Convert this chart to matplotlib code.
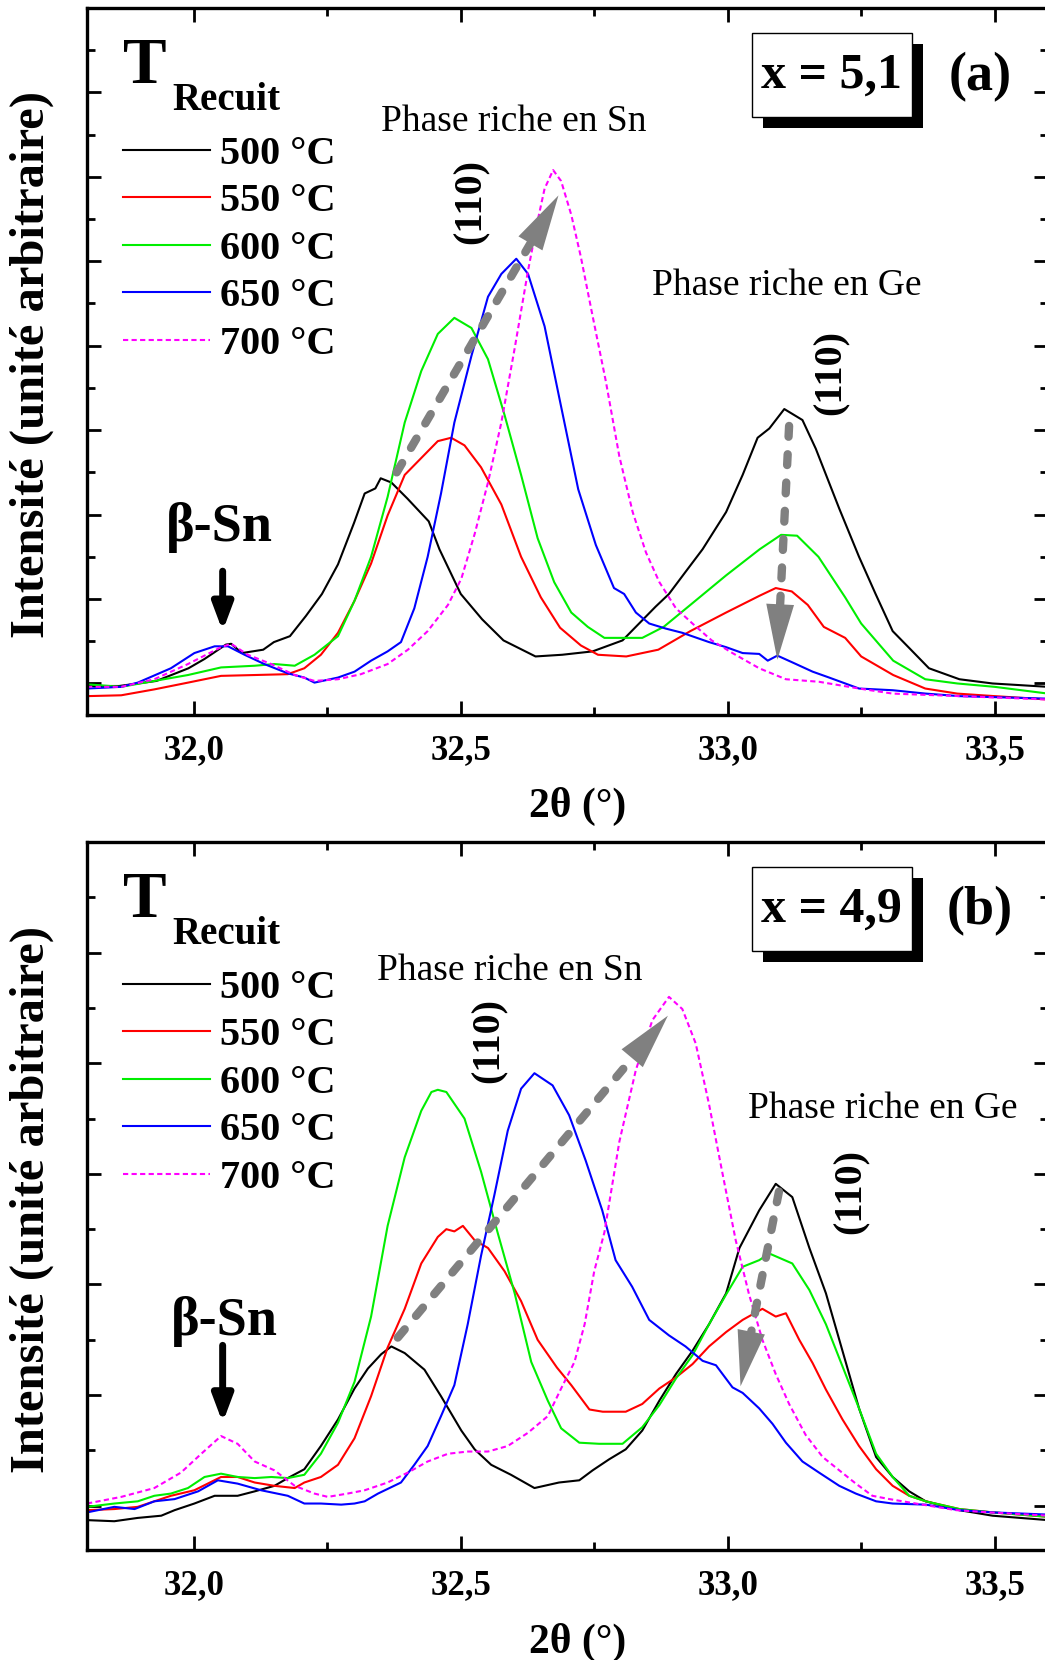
import matplotlib.pyplot as plt
import numpy as np
from matplotlib.patches import Rectangle

plt.rcParams['font.family'] = ['Liberation Serif', 'DejaVu Serif']

temps = ['500 °C', '550 °C', '600 °C', '650 °C', '700 °C']
colors = ['#000000', '#ff0000', '#00ee00', '#0000ff', '#ff00ff']
xticks = [32.0, 32.5, 33.0, 33.5]
xticklabels = ['32,0', '32,5', '33,0', '33,5']

# ---- panel (a), x = 5,1 ----
xa_500 = [31.80, 31.86, 31.93, 31.99, 32.02, 32.06, 32.07, 32.09, 32.13, 32.15, 32.18, 32.21, 32.24, 32.27,
          32.30, 32.32, 32.34, 32.35, 32.37, 32.40, 32.44, 32.46, 32.50, 32.54, 32.58, 32.64, 32.69, 32.747,
          32.803, 32.834, 32.865, 32.89, 32.922, 32.953, 32.997, 33.028, 33.056, 33.078, 33.106, 33.14,
          33.165, 33.209, 33.246, 33.277, 33.309, 33.34, 33.377, 33.434, 33.496, 33.60]
ia_500 = [-0.03, -0.03, 0.03, 0.18, 0.29, 0.46, 0.47, 0.36, 0.40, 0.49, 0.56, 0.80, 1.06, 1.41,
          1.90, 2.25, 2.31, 2.43, 2.38, 2.19, 1.92, 1.59, 1.06, 0.76, 0.51, 0.32, 0.34, 0.38,
          0.51, 0.71, 0.91, 1.06, 1.33, 1.59, 2.03, 2.47, 2.91, 3.02, 3.25, 3.12,
          2.78, 2.07, 1.50, 1.06, 0.62, 0.42, 0.18, 0.05, 0.00, -0.04]

xa_550 = [31.80, 31.864, 31.926, 31.989, 32.051, 32.114, 32.176, 32.207, 32.238, 32.27, 32.301, 32.332,
          32.363, 32.395, 32.426, 32.457, 32.482, 32.507, 32.538, 32.576, 32.613, 32.65, 32.686, 32.725,
          32.757, 32.81, 32.87, 32.93, 32.997, 33.06, 33.09, 33.12, 33.15, 33.18, 33.22, 33.25, 33.31,
          33.37, 33.43, 33.50, 33.60]
ia_550 = [-0.15, -0.14, -0.07, 0.01, 0.09, 0.10, 0.11, 0.18, 0.34, 0.60, 0.98, 1.42,
          1.99, 2.47, 2.67, 2.87, 2.91, 2.82, 2.56, 2.12, 1.50, 1.02, 0.66, 0.45,
          0.34, 0.32, 0.40, 0.62, 0.84, 1.04, 1.13, 1.09, 0.93, 0.67, 0.54, 0.32, 0.10,
          -0.06, -0.12, -0.15, -0.19]

xa_600 = [31.80, 31.864, 31.926, 31.989, 32.051, 32.114, 32.151, 32.189, 32.226, 32.27, 32.301, 32.332,
          32.363, 32.395, 32.426, 32.457, 32.488, 32.52, 32.551, 32.582, 32.613, 32.644, 32.675, 32.707,
          32.738, 32.769, 32.81, 32.84, 32.88, 32.93, 32.997, 33.06, 33.10, 33.13, 33.17, 33.22, 33.25,
          33.28, 33.31, 33.37, 33.43, 33.50, 33.60]
ia_600 = [-0.01, -0.04, 0.03, 0.10, 0.19, 0.21, 0.23, 0.21, 0.34, 0.56, 0.98, 1.50,
          2.21, 3.09, 3.70, 4.14, 4.33, 4.21, 3.84, 3.18, 2.47, 1.72, 1.20, 0.84,
          0.67, 0.54, 0.54, 0.54, 0.67, 0.93, 1.28, 1.59, 1.76, 1.75, 1.50, 1.02, 0.71,
          0.49, 0.27, 0.05, 0.00, -0.04, -0.12]

xa_650 = [31.80, 31.864, 31.895, 31.957, 32.001, 32.039, 32.064, 32.095, 32.132, 32.176, 32.207, 32.226,
          32.27, 32.301, 32.332, 32.363, 32.388, 32.413, 32.438, 32.463, 32.488, 32.52, 32.551, 32.576,
          32.604, 32.626, 32.657, 32.684, 32.72, 32.753, 32.787, 32.806, 32.828, 32.853, 32.884, 32.915,
          32.965, 32.997, 33.028, 33.059, 33.075, 33.093, 33.121, 33.159, 33.19, 33.246, 33.309, 33.371,
          33.434, 33.60]
ia_650 = [-0.06, -0.04, 0.01, 0.18, 0.36, 0.44, 0.44, 0.34, 0.23, 0.12, 0.07, 0.01,
          0.07, 0.14, 0.27, 0.38, 0.49, 0.89, 1.50, 2.25, 3.09, 3.88, 4.58, 4.85,
          5.03, 4.85, 4.23, 3.40, 2.30, 1.64, 1.13, 1.06, 0.84, 0.71, 0.65, 0.60,
          0.49, 0.43, 0.36, 0.35, 0.27, 0.33, 0.25, 0.14, 0.07, -0.06, -0.08, -0.12,
          -0.15, -0.18]

xa_700 = [31.80, 31.864, 31.926, 31.989, 32.051, 32.07, 32.101, 32.145, 32.189, 32.226, 32.27, 32.313,
          32.363, 32.401, 32.438, 32.476, 32.501, 32.526, 32.551, 32.576, 32.601, 32.626, 32.645, 32.657,
          32.673, 32.688, 32.707, 32.725, 32.747, 32.772, 32.797, 32.822, 32.847, 32.872, 32.903, 32.934,
          32.97, 33.009, 33.059, 33.109, 33.171, 33.246, 33.309, 33.434, 33.60]
ia_700 = [-0.04, -0.04, 0.05, 0.23, 0.43, 0.47, 0.34, 0.23, 0.10, 0.03, 0.05, 0.11,
          0.23, 0.40, 0.62, 0.93, 1.24, 1.77, 2.38, 3.09, 3.97, 4.89, 5.51, 5.86,
          6.08, 5.95, 5.55, 5.05, 4.35, 3.57, 2.69, 2.03, 1.55, 1.20, 0.89, 0.71,
          0.51, 0.36, 0.18, 0.05, 0.02, -0.06, -0.12, -0.15, -0.19]

# ---- panel (b), x = 4,9 ----
xb_500 = [31.80, 31.851, 31.895, 31.939, 31.964, 32.001, 32.039, 32.082, 32.114, 32.151, 32.176, 32.207,
          32.238, 32.27, 32.301, 32.326, 32.351, 32.37, 32.395, 32.432, 32.463, 32.501, 32.526, 32.557,
          32.594, 32.638, 32.684, 32.722, 32.747, 32.778, 32.809, 32.84, 32.872, 32.903, 32.934, 32.965,
          32.997, 33.022, 33.059, 33.09, 33.121, 33.153, 33.184, 33.215, 33.246, 33.278, 33.309, 33.34,
          33.371, 33.434, 33.496, 33.60]
ib_500 = [-0.13, -0.14, -0.11, -0.09, -0.04, 0.02, 0.09, 0.09, 0.13, 0.18, 0.25, 0.33,
          0.54, 0.78, 1.06, 1.24, 1.37, 1.44, 1.38, 1.23, 0.99, 0.68, 0.51, 0.37,
          0.28, 0.16, 0.21, 0.23, 0.32, 0.42, 0.51, 0.68, 0.95, 1.19, 1.40, 1.64,
          1.92, 2.33, 2.67, 2.91, 2.79, 2.33, 1.92, 1.40, 0.88, 0.44, 0.26, 0.13,
          0.04, -0.04, -0.09, -0.13]

xb_550 = [31.80, 31.851, 31.895, 31.957, 32.001, 32.051, 32.082, 32.114, 32.151, 32.189, 32.207, 32.238,
          32.27, 32.301, 32.332, 32.363, 32.395, 32.426, 32.457, 32.473, 32.488, 32.504, 32.526, 32.551,
          32.582, 32.613, 32.644, 32.68, 32.707, 32.741, 32.766, 32.809, 32.84, 32.872, 32.903, 32.934,
          32.965, 32.997, 33.028, 33.065, 33.09, 33.109, 33.134, 33.159, 33.184, 33.215, 33.246, 33.278,
          33.309, 33.34, 33.371, 33.434, 33.496, 33.60]
ib_550 = [-0.04, -0.03, -0.01, 0.09, 0.14, 0.26, 0.26, 0.21, 0.18, 0.16, 0.21, 0.26,
          0.37, 0.61, 0.99, 1.43, 1.78, 2.19, 2.43, 2.50, 2.48, 2.53, 2.40, 2.33,
          2.12, 1.85, 1.50, 1.25, 1.09, 0.87, 0.85, 0.85, 0.92, 1.06, 1.16, 1.28,
          1.44, 1.57, 1.68, 1.78, 1.71, 1.74, 1.50, 1.29, 1.05, 0.78, 0.54, 0.33,
          0.18, 0.09, 0.04, -0.03, -0.06, -0.10]

xb_600 = [31.80, 31.851, 31.895, 31.926, 31.957, 31.989, 32.02, 32.051, 32.082, 32.114, 32.145, 32.176,
          32.207, 32.238, 32.27, 32.301, 32.332, 32.363, 32.395, 32.426, 32.445, 32.457, 32.473, 32.507,
          32.538, 32.569, 32.601, 32.632, 32.663, 32.688, 32.722, 32.759, 32.803, 32.84, 32.872, 32.903,
          32.934, 32.965, 32.997, 33.028, 33.059, 33.078, 33.121, 33.153, 33.184, 33.215, 33.246, 33.278,
          33.309, 33.34, 33.371, 33.434, 33.496, 33.60]
ib_600 = [-0.01, 0.02, 0.04, 0.09, 0.11, 0.16, 0.26, 0.29, 0.26, 0.25, 0.26, 0.25,
          0.28, 0.47, 0.75, 1.12, 1.71, 2.53, 3.15, 3.57, 3.74, 3.76, 3.74, 3.50,
          3.02, 2.47, 1.92, 1.30, 0.95, 0.70, 0.57, 0.56, 0.56, 0.71, 0.91, 1.15,
          1.36, 1.64, 1.91, 2.16, 2.22, 2.28, 2.19, 1.95, 1.64, 1.26, 0.88, 0.47,
          0.26, 0.09, 0.04, -0.03, -0.06, -0.10]

xb_650 = [31.80, 31.851, 31.889, 31.926, 31.964, 32.008, 32.045, 32.082, 32.126, 32.176, 32.207, 32.238,
          32.276, 32.301, 32.32, 32.345, 32.388, 32.413, 32.438, 32.463, 32.488, 32.513, 32.538, 32.563,
          32.588, 32.613, 32.638, 32.672, 32.703, 32.734, 32.765, 32.79, 32.821, 32.853, 32.89, 32.921,
          32.953, 32.978, 33.009, 33.028, 33.059, 33.084, 33.109, 33.14, 33.171, 33.209, 33.24, 33.278,
          33.309, 33.371, 33.434, 33.496, 33.60]
ib_650 = [-0.06, -0.01, -0.03, 0.04, 0.06, 0.13, 0.23, 0.20, 0.14, 0.09, 0.02, 0.02,
          0.01, 0.02, 0.04, 0.11, 0.21, 0.37, 0.54, 0.81, 1.09, 1.64, 2.26, 2.81,
          3.39, 3.77, 3.91, 3.80, 3.53, 3.12, 2.67, 2.22, 1.98, 1.68, 1.54, 1.44,
          1.31, 1.27, 1.07, 1.02, 0.88, 0.74, 0.57, 0.40, 0.30, 0.18, 0.11, 0.04,
          0.02, 0.01, -0.04, -0.06, -0.08]

xb_700 = [31.80, 31.864, 31.926, 31.976, 32.014, 32.051, 32.082, 32.114, 32.151, 32.189, 32.226, 32.251,
          32.288, 32.32, 32.363, 32.401, 32.438, 32.476, 32.513, 32.551, 32.588, 32.626, 32.663, 32.688,
          32.713, 32.732, 32.75, 32.769, 32.797, 32.828, 32.859, 32.89, 32.915, 32.94, 32.965, 32.99,
          33.015, 33.04, 33.065, 33.09, 33.115, 33.146, 33.178, 33.209, 33.24, 33.271, 33.303, 33.365,
          33.428, 33.49, 33.60]
ib_700 = [0.02, 0.08, 0.16, 0.30, 0.47, 0.63, 0.56, 0.40, 0.32, 0.18, 0.11, 0.08,
          0.11, 0.14, 0.21, 0.30, 0.40, 0.47, 0.49, 0.49, 0.54, 0.66, 0.81, 1.06,
          1.30, 1.64, 2.12, 2.47, 3.29, 3.94, 4.39, 4.60, 4.49, 4.18, 3.63, 3.01,
          2.40, 1.91, 1.50, 1.19, 0.92, 0.64, 0.44, 0.32, 0.20, 0.09, 0.06, 0.01,
          -0.04, -0.06, -0.09]


def gray_arrow(ax, start, tip):
    (x0, y0), (x1, y1) = start, tip
    xb, yb = x1 - 0.14 * (x1 - x0), y1 - 0.14 * (y1 - y0)
    xh, yh = x1 - 0.3 * (x1 - x0), y1 - 0.3 * (y1 - y0)
    ax.plot([x0, xb], [y0, yb], color='#808080', lw=6, linestyle=(0, (1.3, 2.1)),
            dash_capstyle='round', zorder=4)
    ax.annotate('', xy=tip, xytext=(xh, yh),
                arrowprops=dict(arrowstyle='-|>,head_length=2.0,head_width=0.5', mutation_scale=20,
                                color='#808080', lw=0, shrinkA=0, shrinkB=0), zorder=4)


def draw_panel(ax, xs, ys, ylim, comp, tag, pos):
    for x, y, lab, c in zip(xs, ys, temps, colors):
        ls = (0, (2.5, 1.6)) if lab == '700 °C' else '-'
        ax.plot(x, y, color=c, lw=1.5, ls=ls, label=lab)

    ax.set_xlim(31.8, 33.6)
    ax.set_ylim(*ylim)
    ax.set_xticks(xticks)
    ax.set_xticklabels(xticklabels)
    ax.set_xticks([32.25, 32.75, 33.25], minor=True)
    ax.set_yticks(np.arange(0, ylim[1] + 0.01, 1.0))
    ax.set_yticks(np.arange(0.5, ylim[1], 1.0), minor=True)
    ax.tick_params(which='both', direction='in', top=True, right=True, labelleft=False, width=2)
    ax.tick_params(which='major', length=10, labelsize=25, pad=14)
    ax.tick_params(which='minor', length=5.5)
    for lb in ax.get_xticklabels():
        lb.set_fontweight('bold')
    for s in ax.spines.values():
        s.set_linewidth(2.4)

    ax.set_xlabel('2θ (°)', fontsize=30, fontweight='bold')
    ax.xaxis.set_label_coords(0.511, -0.13)
    ax.xaxis.label.set_va('center')
    ax.set_ylabel('Intensité (unité arbitraire)', fontsize=35, fontweight='bold')
    ax.yaxis.set_label_coords(-0.058, 0.495)
    ax.yaxis.label.set_va('center')

    ax.legend(loc='upper left', bbox_to_anchor=(0.0375, 0.8195), frameon=False, borderpad=0,
              borderaxespad=0, handlelength=2.15, handletextpad=0.25, labelspacing=0.255,
              prop=dict(weight='bold', size=29))

    ax.text(0.037, 0.894, 'T', transform=ax.transAxes, fontsize=47, fontweight='bold', va='baseline')
    ax.text(0.0885, 0.856, 'Recuit', transform=ax.transAxes, fontsize=28, fontweight='bold', va='baseline')

    # composition box with shadow
    ax.add_patch(Rectangle((0.7034, 0.8302), 0.1665, 0.1188, transform=ax.transAxes,
                           fc='k', ec='none', zorder=5))
    ax.add_patch(Rectangle((0.692, 0.8458), 0.1665, 0.1188, transform=ax.transAxes,
                           fc='w', ec='k', lw=1, zorder=6))
    ax.text(0.775, 0.904, comp, transform=ax.transAxes, fontsize=36, fontweight='bold',
            ha='center', va='center', zorder=7)
    ax.text(0.929, 0.902, tag, transform=ax.transAxes, fontsize=39, fontweight='bold',
            ha='center', va='center')

    ax.text(*pos['sn'], 'Phase riche en Sn', transform=ax.transAxes, fontsize=27, ha='center', va='center')
    ax.text(*pos['ge'], 'Phase riche en Ge', transform=ax.transAxes, fontsize=27, ha='center', va='center')
    ax.text(*pos['hkl_sn'], '(110)', transform=ax.transAxes, fontsize=29, fontweight='bold',
            rotation=90, ha='center', va='center')
    ax.text(*pos['hkl_ge'], '(110)', transform=ax.transAxes, fontsize=29, fontweight='bold',
            rotation=90, ha='center', va='center')
    ax.text(*pos['beta'], 'β-Sn', transform=ax.transAxes, fontsize=39, fontweight='bold',
            ha='center', va='center')
    ax.annotate('', xy=pos['b_tip'], xytext=pos['b_start'],
                arrowprops=dict(arrowstyle='-|>,head_length=0.8,head_width=0.3', mutation_scale=20,
                                lw=5, color='k', shrinkA=0, shrinkB=0))
    gray_arrow(ax, pos['sn_start'], pos['sn_tip'])
    gray_arrow(ax, pos['ge_start'], pos['ge_tip'])


fig = plt.figure(figsize=(10.45, 16.6), dpi=100)
ax_a = fig.add_axes([0.0833, 0.5693, 0.9196, 0.4259])
ax_b = fig.add_axes([0.0833, 0.06627, 0.9196, 0.4265])

draw_panel(ax_a, [xa_500, xa_550, xa_600, xa_650, xa_700], [ia_500, ia_550, ia_600, ia_650, ia_700],
           (-0.373, 8.0), 'x = 5,1', '(a)',
           dict(sn=(0.444, 0.839), ge=(0.728, 0.607), hkl_sn=(0.3996, 0.7256), hkl_ge=(0.774, 0.485),
                beta=(0.138, 0.2645), b_start=(32.054, 1.33), b_tip=(32.054, 0.62),
                sn_start=(32.38, 2.5), sn_tip=(32.683, 5.78),
                ge_start=(33.115, 3.05), ge_tip=(33.093, 0.28)))

draw_panel(ax_b, [xb_500, xb_550, xb_600, xb_650, xb_700], [ib_500, ib_550, ib_600, ib_650, ib_700],
           (-0.40, 6.0), 'x = 4,9', '(b)',
           dict(sn=(0.440, 0.818), ge=(0.828, 0.623), hkl_sn=(0.418, 0.719), hkl_ge=(0.795, 0.506),
                beta=(0.143, 0.323), b_start=(32.054, 1.45), b_tip=(32.054, 0.75),
                sn_start=(32.382, 1.52), sn_tip=(32.888, 4.43),
                ge_start=(33.096, 2.84), ge_tip=(33.024, 1.08)))

fig.savefig('out.png', dpi=100)
